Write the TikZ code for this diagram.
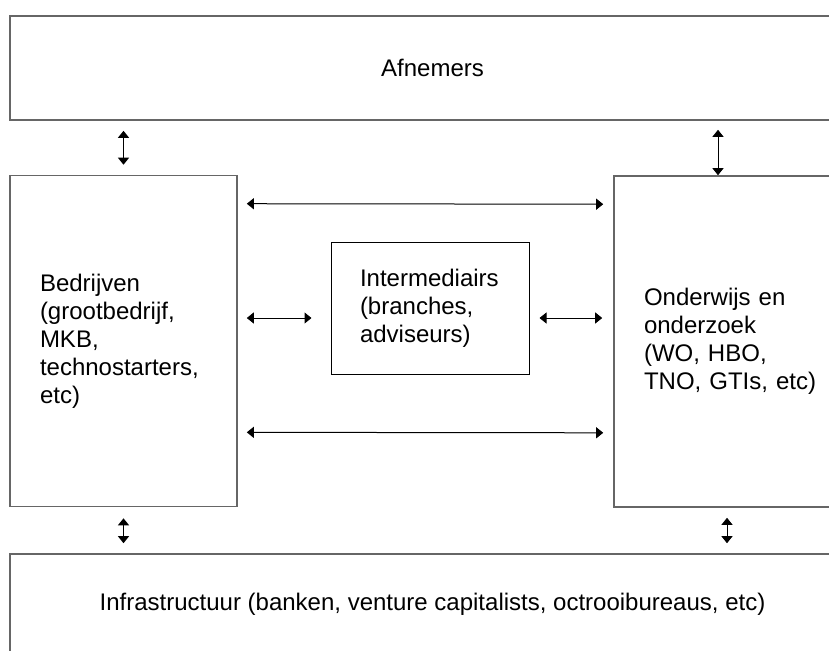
\documentclass[tikz,border=0pt]{standalone}
\usepackage{fontspec}
\setmainfont{Liberation Sans}
\usetikzlibrary{arrows.meta}

\begin{document}
\begin{tikzpicture}[
  x=0.5pt, y=-0.5pt,
  font=\fontsize{12}{14}\selectfont,
  bigbox/.style={draw=black!60, line width=0.8pt, inner sep=0pt},
  sidebox/.style={bigbox, align=left, text width=83.5pt, inner xsep=15pt, minimum height=165.5pt},
  midbox/.style={draw, line width=0.5pt, align=left, text width=70pt, inner xsep=14.5pt, minimum height=66pt},
  link/.style={{Triangle[length=3.5pt,width=5.5pt]}-{Triangle[length=3.5pt,width=5.5pt]}, line width=0.5pt}
]
  \useasboundingbox (0,0) rectangle (829,650);
  \clip (0,0) rectangle (829,650);

  % --- blokken ---
  \node[bigbox, minimum width=422.5pt, minimum height=52pt] (afn) at (432.5, 68) {Afnemers};
  \node[sidebox] (bedr) at (123.5, 341) {Bedrijven\\(grootbedrijf,\\MKB,\\technostarters,\\etc)};
  \node[sidebox, text width=96pt] (ondw) at (740, 341.5) {Onderwijs en\\onderzoek\\(WO, HBO,\\TNO, GTIs, etc)};
  \node[midbox] (inter) at (430, 308) {Intermediairs\\(branches,\\adviseurs)};
  \node[bigbox, minimum width=422.5pt, minimum height=50pt] (infra) at (432.5, 604)
    {Infrastructuur (banken, venture capitalists, octrooibureaus, etc)};

  % --- verticale pijlen ---
  \draw[link, shorten <=5pt, shorten >=5pt] (afn.south -| bedr.north) -- (bedr.north);
  \draw[link, shorten <=4.5pt] ([xshift=-11pt]afn.south -| ondw.north) -- ([xshift=-11pt]ondw.north);
  \draw[link, shorten <=5.5pt, shorten >=5pt] (bedr.south) -- (bedr.south |- infra.north);
  \draw[link, shorten <=5pt, shorten >=5pt] ([xshift=-6.5pt]ondw.south) -- ([xshift=-6.5pt]ondw.south |- infra.north);

  % --- horizontale pijlen ---
  \draw[link, shorten <=4.5pt, shorten >=5pt] ([yshift=-14.5pt]bedr.north east) -- ([yshift=-14.5pt]ondw.north west);
  \draw[link, shorten <=4.5pt, shorten >=9.5pt] ([yshift=-5pt]bedr.east |- inter.west) -- ([yshift=-5pt]inter.west);
  \draw[link, shorten <=5pt, shorten >=5.5pt] ([yshift=-5pt]inter.east) -- ([yshift=-5pt]ondw.west |- inter.east);
  \draw[link, shorten <=4.5pt, shorten >=5pt] ([yshift=37.5pt]bedr.south east) -- ([yshift=37.5pt]ondw.south west);
\end{tikzpicture}
\end{document}
